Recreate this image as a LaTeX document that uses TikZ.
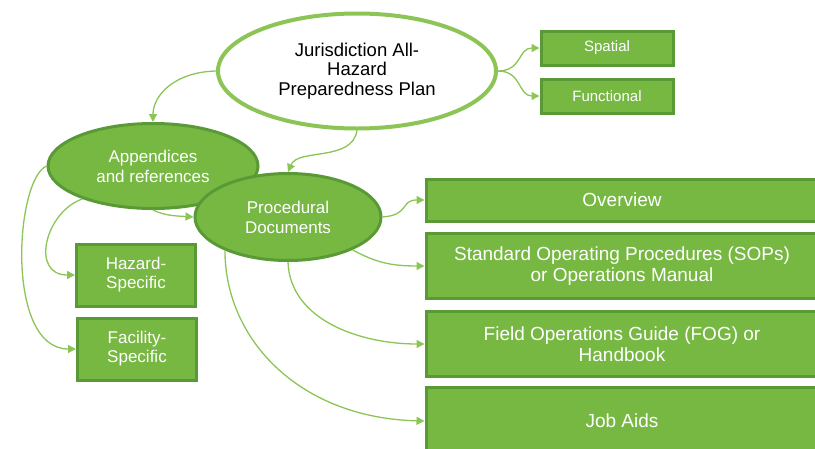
\documentclass[tikz,border=0pt]{standalone}
\usepackage{fontspec}
\setmainfont{Liberation Sans}
\usepackage{tikz}
\usetikzlibrary{
	arrows.meta,
	positioning,
	shapes.geometric
}
\usepackage{xcolor}

\definecolor{boxgreen}{HTML}{77B843}
\definecolor{edgegreen}{HTML}{5A9A36}
\definecolor{linkgreen}{HTML}{8CC556}

\tikzset{
	plan/.style={ellipse, draw=linkgreen, line width=4pt, fill=white,
		inner sep=0pt, align=center, text=black,
		font=\fontsize{18.5}{19.5}\selectfont},
	docell/.style={ellipse, draw=edgegreen, line width=3pt, fill=boxgreen,
		inner sep=0pt, align=center, text=white,
		font=\fontsize{17}{20}\selectfont},
	docbox/.style={rectangle, draw=edgegreen, line width=3pt, fill=boxgreen,
		inner sep=0pt, align=center, text=white},
	link/.style={draw=linkgreen, line width=1.3pt,
		-{Triangle[length=8pt,width=8pt]}}
}

\begin{document}
\begin{tikzpicture}[x=1pt,y=-1pt]
		
		\clip (0,0) rectangle (815,448);
		
		% Plan and the two documents below it
		\node[plan, minimum width=278pt, minimum height=115pt] (plan) at (357,71)
		{Jurisdiction All-\\Hazard\\Preparedness Plan};
		\node[docell, minimum width=210pt, minimum height=85pt] (app) at (153,166)
		{Appendices\\and references};
		\node[docell, minimum width=186pt, minimum height=87pt] (proc) at (288,217)
		{Procedural\\Documents};
		
		% Plan types
		\node[docbox, minimum width=132pt, minimum height=34pt,
		font=\fontsize{15}{18}\selectfont] (spatial) at (607,48) {Spatial};
		\node[docbox, minimum width=132pt, minimum height=34pt,
		font=\fontsize{15}{18}\selectfont] (funct) at (607,96) {Functional};
		
		% Annexes
		\node[docbox, minimum width=119pt, minimum height=62pt,
		font=\fontsize{17}{19}\selectfont] (haz) at (136,275) {Hazard-\\Specific};
		\node[docbox, minimum width=119pt, minimum height=62pt,
		font=\fontsize{17}{19}\selectfont] (fac) at (137,349) {Facility-\\Specific};
		
		% Procedural documents
		\node[docbox, minimum width=392pt, minimum height=42pt,
		font=\fontsize{19}{21}\selectfont] (over) at (622,200) {Overview};
		\node[docbox, minimum width=392pt, minimum height=65pt,
		font=\fontsize{19}{21}\selectfont] (sop) at (622,266)
		{Standard Operating Procedures (SOPs)\\or Operations Manual};
		\node[docbox, minimum width=392pt, minimum height=65pt,
		font=\fontsize{19}{21}\selectfont] (fog) at (622,344)
		{Field Operations Guide (FOG) or\\Handbook};
		\node[docbox, minimum width=392pt, minimum height=68pt,
		font=\fontsize{19}{21}\selectfont] (jobs) at (622,421) {Job Aids};
		
		% Links from the plan
		\draw[link] (plan.west) .. controls (175,72) and (153,95) .. (app.north);
		\draw[link] (plan.south) .. controls (352,162) and (298,148) .. (proc.north);
		\draw[link] (plan.east) .. controls (522,71) and (518,48) .. (spatial.west);
		\draw[link] (plan.east) .. controls (522,71) and (518,96) .. (funct.west);
		
		% Links from the appendices
		\draw[link] (app.south) .. controls (165,216) and (178,216) .. (proc.west);
		\draw[link] (app.205) .. controls (45,212) and (30,275) .. (haz.west);
		\draw[link] (app.west) .. controls (15,180) and (5,349) .. (fac.west);
		
		% Links from the procedural documents
		\draw[link] (proc.east) .. controls (410,215) and (400,200) .. (over.west);
		\draw[link] (proc.-27) .. controls (375,262) and (390,266) .. (sop.west);
		\draw[link] (proc.south) .. controls (290,320) and (360,344) .. (fog.west);
		\draw[link] (proc.208) .. controls (225,340) and (300,418) .. (jobs.west);
		
	\end{tikzpicture}
\end{document}
